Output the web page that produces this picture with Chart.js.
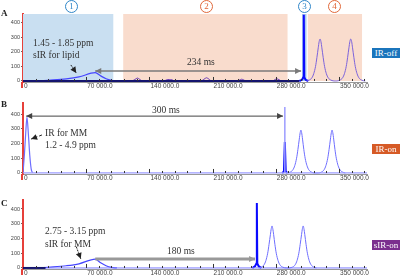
<!DOCTYPE html>
<html>
<head>
<meta charset="utf-8">
<script src="https://cdn.jsdelivr.net/npm/chart.js@4"></script>
<style>
body{margin:0;background:#fff;width:400px;height:278px;position:relative;overflow:hidden;font-family:"Liberation Serif",serif;}
canvas{position:absolute;left:0;}
.t{position:absolute;font-size:9.5px;color:#333;white-space:nowrap;line-height:1;}
.pl{position:absolute;font-weight:bold;font-size:9px;color:#222;line-height:1;}
.num{position:absolute;width:11px;height:11px;border-radius:50%;border:1px solid;font-size:9px;text-align:center;line-height:11px;background:#fff;}
.tag{position:absolute;left:372px;width:28px;height:10px;color:#fff;font-size:9px;text-align:center;line-height:10px;}
</style>
</head>
<body>
<canvas id="chartA" width="400" height="92" style="top:0"></canvas>
<canvas id="chartB" width="400" height="92" style="top:92px"></canvas>
<canvas id="chartC" width="400" height="94" style="top:184px"></canvas>

<div class="pl" style="left:1px;top:9px">A</div>
<div class="pl" style="left:1px;top:100px">B</div>
<div class="pl" style="left:1px;top:199px">C</div>

<div class="num" style="left:65px;top:0;border-color:#2f86c8;color:#2f86c8">1</div>
<div class="num" style="left:200px;top:0;border-color:#e0683a;color:#e0683a">2</div>
<div class="num" style="left:298px;top:0;border-color:#2f86c8;color:#2f86c8">3</div>
<div class="num" style="left:328px;top:0;border-color:#e0683a;color:#e0683a">4</div>

<div class="t" style="left:33px;top:39px">1.45 - 1.85 ppm</div>
<div class="t" style="left:33px;top:51px">sIR for lipid</div>
<div class="t" style="left:187px;top:58px">234 ms</div>
<div class="t" style="left:152px;top:106px">300 ms</div>
<div class="t" style="left:45px;top:129px">IR for MM</div>
<div class="t" style="left:45px;top:141px">1.2 - 4.9 ppm</div>
<div class="t" style="left:45px;top:227px">2.75 - 3.15 ppm</div>
<div class="t" style="left:45px;top:240px">sIR for MM</div>
<div class="t" style="left:167px;top:247px">180 ms</div>

<div class="tag" style="top:48px;background:#1b75bc">IR-off</div>
<div class="tag" style="top:144px;background:#d65a26">IR-on</div>
<div class="tag" style="top:240px;background:#7b2f8e">sIR-on</div>

<script>
const xTicks = [0, 70000, 140000, 210000, 280000, 350000];
const xTickLabels = ['0', '70 000.0', '140 000.0', '210 000.0', '280 000.0', '350 000.0'];
const yTicks = [0, 100, 200, 300, 400];

// A: IR-off
const aBaseline = [[0,0],[306000,0]];
const aLipid = [[20000,0],[23000,2],[48000,15],[62000,28],[80000,57],[86000,35],[92000,15],[98000,4],[104000,0]];
const aSmall = [[121000,0],[124000,10],[126700,20],[129500,10],[132000,0],
  [156000,0],[159000,8],[162000,10],[165000,8],[168000,0],
  [197000,0],[200500,12],[203300,22],[206000,12],[209000,0],
  [237000,0],[240000,7],[242200,12],[244500,7],[247000,0],
  [276000,0],[279000,9],[281100,15],[283500,9],[286000,0]];
const aSpike = [[306000,0],[309000,8],[310500,25],[311000,455],[311500,25],[313000,8],[316000,0]];
const aMetab = [[314000,0],[317000,6],[320000,22],[322000,50],[324000,100],[325500,160],[327000,228],[328000,270],[329000,288],
  [330000,270],[331000,228],[332500,160],[334000,100],[336000,50],[338000,22],[341000,6],[346000,0],
  [351000,6],[354000,22],[356000,50],[358000,100],[359500,160],[361000,228],[362000,270],[363000,288],
  [364000,270],[365000,228],[366500,160],[368000,100],[370000,50],[372000,22],[375000,6],[379000,0]];
const aRegionFrom = [0, 111000, 309000, 315500];
const aRegionTo = [100000, 293000, 314000, 375500];

// B: IR-on
const bBaseline = [[0,0],[381000,0]];
const bMM = [[0,0],[1500,120],[3000,270],[4400,380],[6000,260],[7500,120],[9000,30],[10500,0]];
const bSpikeLight = [[290000,0],[290000,447]];
const bSpike = [[287000,0],[289000,10],[290000,210],[291000,10],[293000,0]];
const bMetab = [[293000,0],[296000,6],[299000,22],[301000,50],[303000,100],[304500,160],[306000,230],[307000,274],[307800,291],
  [308600,274],[309600,230],[311000,160],[312500,100],[314500,50],[316500,22],[319500,6],[322500,0],
  [327500,0],[330500,6],[333500,22],[335500,50],[337500,100],[339000,160],[340500,230],[341500,274],[342300,291],
  [343100,274],[344100,230],[345500,160],[347000,100],[349000,50],[351000,22],[354000,6],[357000,0]];

// C: sIR-on
const cBaseline = [[0,0],[25000,0]];
const cBaseline2 = [[25000,0],[381000,0]];
const cMM = [[20000,0],[23000,2],[48000,15],[62000,28],[80000,60],[86000,35],[92000,15],[98000,4],[104000,0]];
const cSpike = [[254000,0],[257000,12],[258500,30],[259000,440],[259500,30],[261000,12],[264000,0]];
const cMetab = [[261000,0],[264000,6],[267000,22],[269000,50],[271000,100],[272500,160],[274000,226],[275000,268],[275800,285],
  [276600,268],[277600,226],[279000,160],[280500,100],[282500,50],[284500,22],[287500,6],[292000,0],
  [298500,6],[301500,22],[303500,50],[305500,100],[307000,160],[308500,226],[309500,268],[310300,285],
  [311100,268],[312100,226],[313500,160],[315000,100],[317000,50],[319000,22],[322000,6],[325000,0]];

function pts(a) { return a.map(p => ({x: p[0], y: p[1]})); }

function line(data, color, width, smooth) {
  return {
    data: pts(data), borderColor: color, borderWidth: width, pointRadius: 0, fill: false,
    tension: smooth ? 0.4 : 0, cubicInterpolationMode: smooth ? 'monotone' : 'default'
  };
}

function arrowHead(ctx, x, y, ang, color) {
  ctx.save();
  ctx.fillStyle = color;
  ctx.translate(x, y);
  ctx.rotate(ang);
  ctx.beginPath();
  ctx.moveTo(0, 0);
  ctx.lineTo(-6, -3);
  ctx.lineTo(-6, 3);
  ctx.closePath();
  ctx.fill();
  ctx.restore();
}

function overlay(regions, arrows) {
  return {
    id: 'overlay',
    beforeDatasetsDraw(chart) {
      const {ctx, chartArea, scales: {x, y}} = chart;
      const y0 = y.getPixelForValue(0);
      regions.forEach(r => {
        const x1 = x.getPixelForValue(r.from), x2 = x.getPixelForValue(r.to);
        ctx.fillStyle = r.color;
        ctx.fillRect(x1, chartArea.top, x2 - x1, y0 - chartArea.top);
      });
    },
    afterDatasetsDraw(chart) {
      const {ctx, chartArea, scales: {x, y}} = chart;
      const y0 = y.getPixelForValue(0);
      ctx.save();
      // red y axis runs a little past the bottom
      ctx.strokeStyle = '#e6403a';
      ctx.lineWidth = 2;
      ctx.beginPath();
      ctx.moveTo(chartArea.left - 1, chartArea.bottom);
      ctx.lineTo(chartArea.left - 1, chartArea.bottom + 6);
      ctx.stroke();
      // small ticks sitting on the baseline
      ctx.strokeStyle = '#333';
      ctx.lineWidth = 1;
      for (let v = 14000; v < 381000; v += 14000) {
        const px = Math.round(x.getPixelForValue(v)) + 0.5;
        const h = v % 70000 === 0 ? 4 : 2;
        ctx.beginPath();
        ctx.moveTo(px, y0);
        ctx.lineTo(px, y0 - h);
        ctx.stroke();
      }
      // x tick labels, left-aligned on their tick
      ctx.fillStyle = '#444';
      ctx.font = '6.5px "Liberation Sans"';
      ctx.textAlign = 'left';
      ctx.textBaseline = 'middle';
      xTicks.forEach((v, i) => {
        ctx.fillText(xTickLabels[i], x.getPixelForValue(v) + 1, chartArea.bottom + 4);
      });
      arrows.forEach(a => {
        const x1 = x.getPixelForValue(a.from[0]), y1 = y.getPixelForValue(a.from[1]);
        const x2 = x.getPixelForValue(a.to[0]), y2 = y.getPixelForValue(a.to[1]);
        const ang = Math.atan2(y2 - y1, x2 - x1);
        ctx.strokeStyle = a.color;
        ctx.lineWidth = a.width;
        ctx.setLineDash(a.dash || []);
        ctx.beginPath();
        ctx.moveTo(x1, y1);
        ctx.lineTo(x2, y2);
        ctx.stroke();
        ctx.setLineDash([]);
        arrowHead(ctx, x2, y2, ang, a.color);
        if (a.both) arrowHead(ctx, x1, y1, ang + Math.PI, a.color);
      });
      ctx.restore();
    }
  };
}

function panel(id, padTop, xHeight, ymin, ymax, datasets, regions, arrows) {
  return new Chart(document.getElementById(id), {
    type: 'line',
    data: {datasets: datasets},
    options: {
      responsive: false,
      animation: false,
      devicePixelRatio: 1,
      layout: {padding: {left: 0, right: 33, top: padTop, bottom: 0}},
      plugins: {legend: {display: false}, tooltip: {enabled: false}},
      scales: {
        x: {
          type: 'linear', min: 0, max: 381000,
          afterFit: s => { s.height = xHeight; },
          afterBuildTicks: s => { s.ticks = xTicks.map(v => ({value: v})); },
          ticks: {display: false},
          grid: {display: false},
          border: {display: true, color: '#999', width: 1}
        },
        y: {
          min: ymin, max: ymax,
          afterFit: s => { s.width = 23; },
          afterBuildTicks: s => { s.ticks = yTicks.map(v => ({value: v})); },
          ticks: {padding: 1, font: {size: 5.5, family: 'Liberation Sans'}, color: '#444'},
          grid: {display: true, drawOnChartArea: false, tickLength: 2, color: '#666'},
          border: {display: true, color: '#e6403a', width: 2}
        }
      }
    },
    plugins: [overlay(regions, arrows)]
  });
}

panel('chartA', 14, 10, -7, 460, [
  line(aBaseline, '#14146e', 2, false),
  line(aSmall, '#6a3db8', 1, true),
  line(aLipid, '#4646ff', 1.2, true),
  line(aMetab, '#7c63dc', 1, true),
  line(aSpike, '#0a0aff', 2, false)
], [
  {from: aRegionFrom[0], to: aRegionTo[0], color: '#c9dff1'},
  {from: aRegionFrom[1], to: aRegionTo[1], color: '#f9dccd'},
  {from: aRegionFrom[2], to: aRegionTo[2], color: '#a9c9ec'},
  {from: aRegionFrom[3], to: aRegionTo[3], color: '#f9dccd'}
], [
  {from: [80000, 69], to: [308000, 69], color: '#7a7a7a', width: 1.5, both: true},
  {from: [53000, 110], to: [59000, 55], color: '#222', width: 1, dash: [2, 1]}
]);

panel('chartB', 11, 10, -7, 475, [
  line(bBaseline, '#9c9cff', 1.2, false),
  line(bMM, '#6e6eff', 1.2, true),
  line(bMetab, '#6e6eff', 1, true),
  line(bSpikeLight, '#9c9cff', 1.5, false),
  line(bSpike, '#0a0aff', 2, false)
], [], [
  {from: [3500, 386], to: [288000, 386], color: '#444', width: 1, both: true},
  {from: [21000, 258], to: [9000, 230], color: '#222', width: 1, dash: [3, 2]}
]);

panel('chartC', 16, 9, -7, 461, [
  line(cBaseline, '#14146e', 2, false),
  line(cBaseline2, '#7a7aff', 1, false),
  line(cMM, '#4646ff', 1.2, true),
  line(cMetab, '#6e6eff', 1, true),
  line(cSpike, '#0a0aff', 2, false)
], [], [
  {from: [80000, 60], to: [257000, 60], color: '#999', width: 3, both: false},
  {from: [59000, 144], to: [64000, 62], color: '#222', width: 1, dash: [2, 1]}
]);
</script>
</body>
</html>
